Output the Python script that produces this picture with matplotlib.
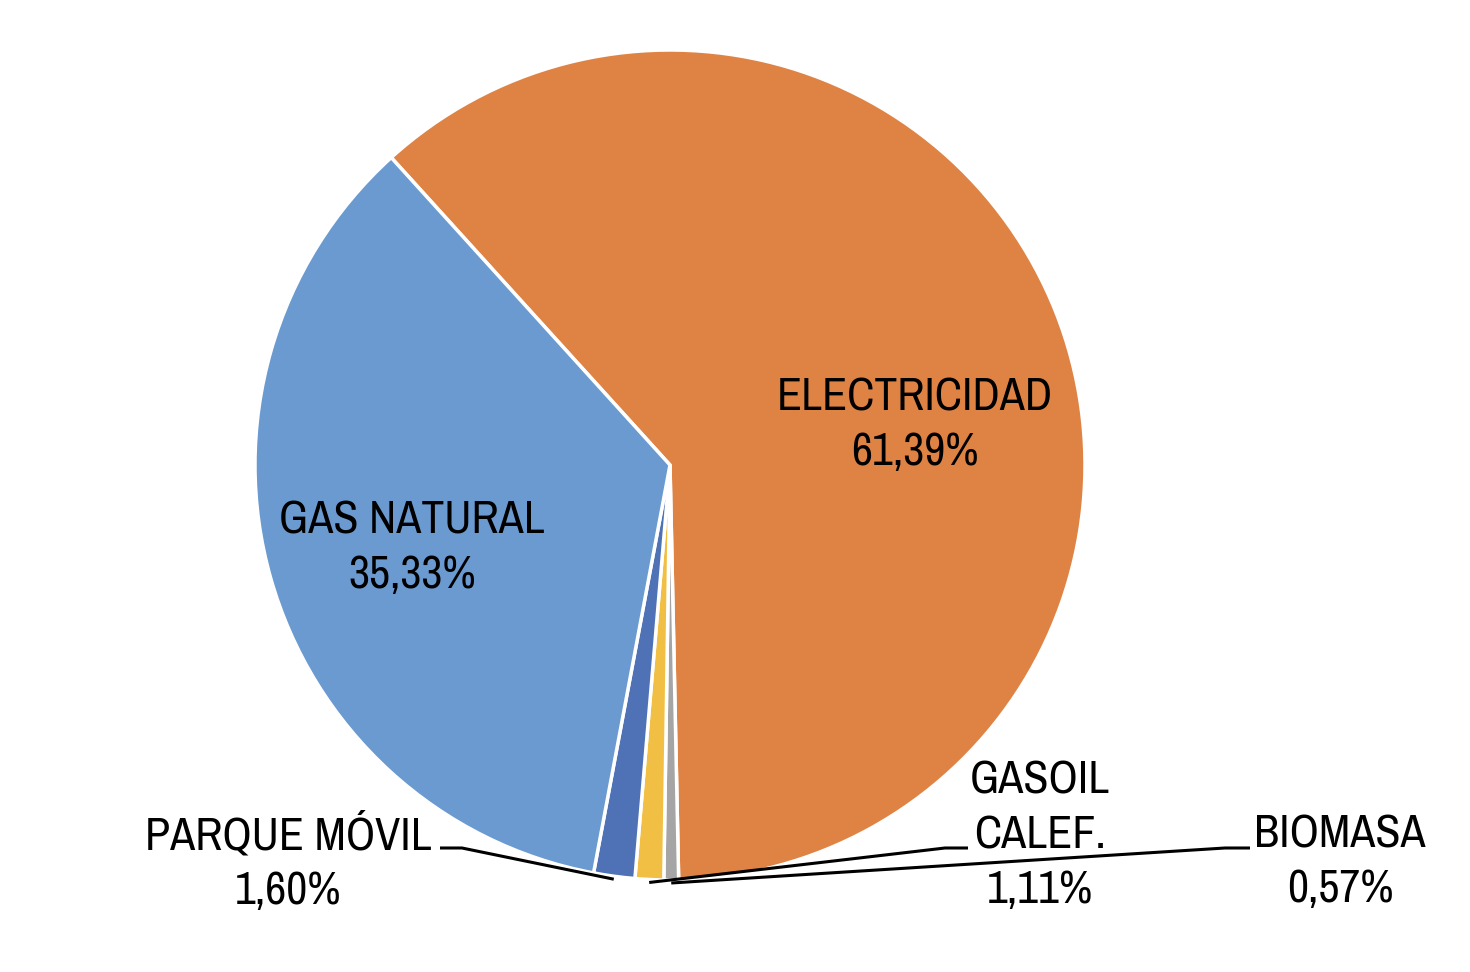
import numpy as np
import matplotlib.pyplot as plt

names = ['ELECTRICIDAD', 'BIOMASA', 'GASOIL\nCALEF.', 'PARQUE MÓVIL', 'GAS NATURAL']
shares = [61.39, 0.57, 1.11, 1.60, 35.33]
colors = ['#DF8345', '#A5A5A5', '#F2BF45', '#4F71B5', '#6A9AD0']

fams = ['Archivo Narrow', 'DejaVu Sans']

fig = plt.figure(figsize=(14.7, 9.72), dpi=100)
ax = fig.add_axes([0, 0, 1, 1])

cx, cy, r = 670, 507, 415
start = 132.2
explode = [0, 0, 0, 0, 0.015]
wedges, _ = ax.pie(shares, colors=colors, startangle=start, counterclock=False,
                   center=(cx, cy), radius=r, explode=explode,
                   wedgeprops=dict(edgecolor='white', linewidth=2.5), frame=True)
ax.set_xlim(0, 1470)
ax.set_ylim(0, 972)
ax.set_aspect('equal')
ax.axis('off')

fs = 33
ls = 1.38
lab = lambda i: names[i] + '\n' + f'{shares[i]:.2f}%'.replace('.', ',')

# etiquetas dentro
ax.text(915, 972 - 425, lab(0), ha='center', va='center', fontsize=fs, family=fams, linespacing=ls)
ax.text(412, 972 - 548, lab(4), ha='center', va='center', fontsize=fs, family=fams, linespacing=ls)

# etiquetas fuera con lineas guia
outside = {3: (288, 862, 440, 462), 2: (1040, 835, 968, 945), 1: (1340, 862, 1250, 1225)}
for i, (tx, ty, lx0, lx1) in outside.items():
    ax.text(tx, 972 - ty, lab(i), ha='center', va='center', fontsize=fs, family=fams, linespacing=ls)
    w = wedges[i]
    mid = np.deg2rad((w.theta1 + w.theta2) / 2)
    ex, ey = cx + (r + 3) * np.cos(mid), cy + (r + 3) * np.sin(mid)
    ax.plot([lx0, lx1, ex], [972 - 848, 972 - 848, ey], color='black', lw=2.2, solid_capstyle='butt')

fig.savefig('out.png', dpi=100)
